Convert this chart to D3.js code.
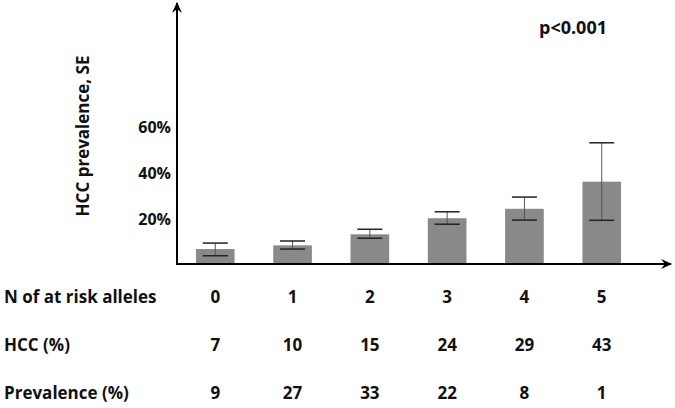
<!DOCTYPE html>
<html>
<head>
<meta charset="utf-8">
<script src="https://cdn.jsdelivr.net/npm/d3@7"></script>
<style>
  body { margin: 0; background: #fff; }
  text { font-family: "Open Sans", "Liberation Sans", sans-serif; font-weight: bold; fill: #111; }
</style>
</head>
<body>
<div id="chart"></div>
<script>
// data
var alleles = ["0", "1", "2", "3", "4", "5"];
var prevalence = [6.5, 8.1, 12.9, 19.9, 24.0, 35.8];   // bar height, %
var errLow = [3.6, 6.5, 11.2, 17.3, 19.1, 19.0];
var errHigh = [9.1, 10.0, 15.1, 22.7, 29.1, 52.7];
var hccPct = ["7", "10", "15", "24", "29", "43"];
var prevPct = ["9", "27", "33", "22", "8", "1"];
var yTicks = [20, 40, 60];

var width = 675, height = 408;
var x0 = 177, yBase = 264;

var svg = d3.select("#chart").append("svg")
    .attr("width", width)
    .attr("height", height);

// scales
var x = d3.scaleBand()
    .domain(alleles)
    .range([x0, 640])
    .paddingInner(0.5)
    .paddingOuter(0.245);

var y = d3.scaleLinear()
    .domain([0, 100])
    .range([yBase, yBase - 230]);

// arrow marker (filled, stealth-like)
svg.append("defs").append("marker")
    .attr("id", "arrow")
    .attr("viewBox", "0 0 10 10")
    .attr("refX", 9).attr("refY", 5)
    .attr("markerWidth", 11).attr("markerHeight", 11)
    .attr("markerUnits", "userSpaceOnUse")
    .attr("orient", "auto")
  .append("path")
    .attr("d", "M0,0.5 L10,5 L0,9.5 L3.5,5 Z")
    .attr("fill", "#000");

// bars
svg.selectAll(".bar")
    .data(prevalence)
  .enter().append("rect")
    .attr("class", "bar")
    .attr("x", function(d, i) { return x(alleles[i]); })
    .attr("width", x.bandwidth())
    .attr("y", function(d) { return y(d); })
    .attr("height", function(d) { return y(0) - y(d); })
    .attr("fill", "#898989");

// error bars
var capW = 25;
var err = svg.append("g");
alleles.forEach(function(a, i) {
    var cx = x(a) + x.bandwidth() / 2;
    err.append("line")
        .attr("x1", cx).attr("x2", cx)
        .attr("y1", y(errLow[i])).attr("y2", y(errHigh[i]))
        .attr("stroke", "#555").attr("stroke-width", 1);
    [errLow[i], errHigh[i]].forEach(function(v) {
        err.append("line")
            .attr("x1", cx - capW / 2).attr("x2", cx + capW / 2)
            .attr("y1", y(v)).attr("y2", y(v))
            .attr("stroke", "#222").attr("stroke-width", 1.5);
    });
});

// axes
svg.append("line")
    .attr("x1", x0).attr("y1", yBase + 1)
    .attr("x2", x0).attr("y2", 3)
    .attr("stroke", "#000").attr("stroke-width", 2)
    .attr("marker-end", "url(#arrow)");

svg.append("line")
    .attr("x1", x0 - 1).attr("y1", yBase)
    .attr("x2", 671).attr("y2", yBase)
    .attr("stroke", "#000").attr("stroke-width", 2)
    .attr("marker-end", "url(#arrow)");

// y tick labels
svg.selectAll(".ytick")
    .data(yTicks)
  .enter().append("text")
    .attr("x", 171)
    .attr("y", function(d) { return y(d) + 1; })
    .attr("dy", "0.35em")
    .attr("text-anchor", "end")
    .style("font-size", "16px")
    .text(function(d) { return d + "%"; });

// y title
svg.append("text")
    .attr("transform", "translate(89,136) rotate(-90)")
    .attr("text-anchor", "middle")
    .style("font-size", "17px")
    .text("HCC prevalence, SE");

svg.append("text")
    .attr("x", 573).attr("y", 28)
    .attr("dy", "0.35em")
    .attr("text-anchor", "middle")
    .style("font-size", "18px")
    .text("p<0.001");

// table rows
var rows = [
    { label: "N of at risk alleles", vals: alleles, y: 297 },
    { label: "HCC (%)", vals: hccPct, y: 345 },
    { label: "Prevalence (%)", vals: prevPct, y: 393 }
];
rows.forEach(function(r) {
    svg.append("text")
        .attr("x", 4).attr("y", r.y)
        .attr("dy", "0.35em")
        .style("font-size", "17px")
        .text(r.label);
    svg.selectAll(null)
        .data(r.vals)
      .enter().append("text")
        .attr("x", function(d, i) { return x(alleles[i]) + x.bandwidth() / 2; })
        .attr("y", r.y)
        .attr("dy", "0.35em")
        .attr("text-anchor", "middle")
        .style("font-size", "17px")
        .text(function(d) { return d; });
});
</script>
</body>
</html>
